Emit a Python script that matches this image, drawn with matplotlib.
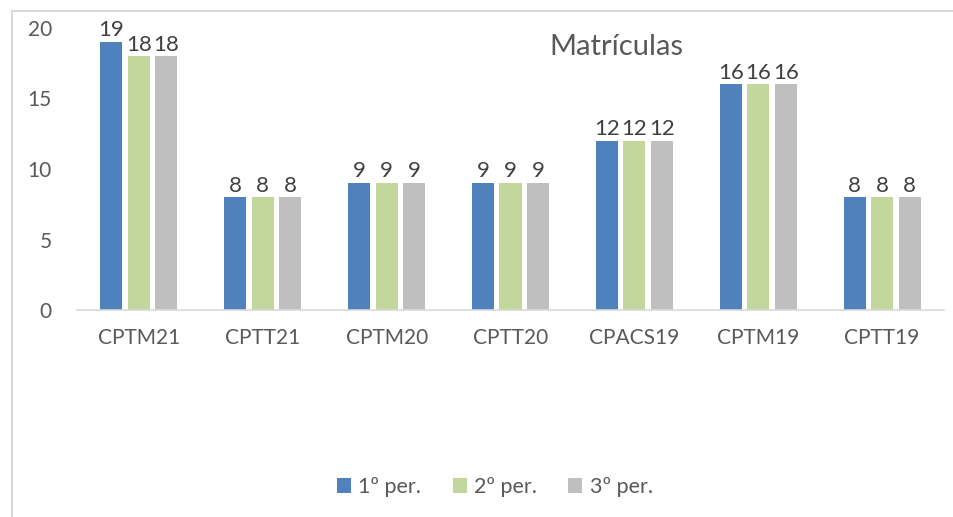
import matplotlib
matplotlib.use("Agg")
import matplotlib.pyplot as plt
import numpy as np
from matplotlib.lines import Line2D
from matplotlib.patches import Patch

categories = ["CPTM21", "CPTT21", "CPTM20", "CPTT20", "CPACS19", "CPTM19", "CPTT19"]
series_names = ["1º per.", "2º per.", "3º per."]
per1 = [19, 8, 9, 9, 12, 16, 8]
per2 = [18, 8, 9, 9, 12, 16, 8]
per3 = [18, 8, 9, 9, 12, 16, 8]
yticks = [0, 5, 10, 15, 20]
title = "Matrículas"

colors = ["#4F81BD", "#C3D69B", "#BFBFBF"]
txt = "#595959"
plt.rcParams['font.family'] = ['Lato', 'DejaVu Sans']

fig = plt.figure(figsize=(9.54, 5.17), dpi=100)
W, H = 954, 517
ax = fig.add_axes([77 / W, 1 - 310 / H, (944 - 77) / W, (310 - 28) / H])

x = np.arange(len(categories))
bw = 0.178
step = 0.222
for i, (vals, c) in enumerate(zip([per1, per2, per3], colors)):
    pos = x + (i - 1) * step
    ax.bar(pos, vals, width=bw, color=c, zorder=2)
    for p, v in zip(pos, vals):
        ax.text(p, v + 0.12, str(v), ha="center", va="bottom", fontsize=16, color="#404040")

ax.set_xlim(-0.5, len(categories) - 0.5)
ax.set_ylim(0, 20)
ax.set_yticks(yticks)
ax.set_xticks(x)
ax.set_xticklabels(categories)
ax.tick_params(axis="both", length=0, labelsize=15, colors=txt)
ax.tick_params(axis="y", pad=18)
ax.tick_params(axis="x", pad=13)
for s in ["left", "right", "top"]:
    ax.spines[s].set_visible(False)
ax.spines["bottom"].set_color("#D9D9D9")
ax.spines["bottom"].set_linewidth(1.2)

fig.text(616 / W, 1 - 47 / H, title, ha="center", va="center", fontsize=21, color=txt)

handles = [Patch(facecolor=c, edgecolor="none") for c in colors]
fig.legend(handles, series_names, loc="center", bbox_to_anchor=(495 / W, 1 - 487 / H),
           ncol=3, frameon=False, fontsize=15.5, labelcolor=txt,
           handlelength=0.65, handleheight=0.65, handletextpad=0.35, columnspacing=1.45)

fig.add_artist(Line2D([12.5 / W, 12.5 / W], [0, 1 - 11 / H], transform=fig.transFigure,
                      color="#D9D9D9", lw=1.5))
fig.add_artist(Line2D([12.5 / W, 1], [1 - 11 / H, 1 - 11 / H], transform=fig.transFigure,
                      color="#D9D9D9", lw=1.5))

fig.savefig("out.png", dpi=100, facecolor="white")
